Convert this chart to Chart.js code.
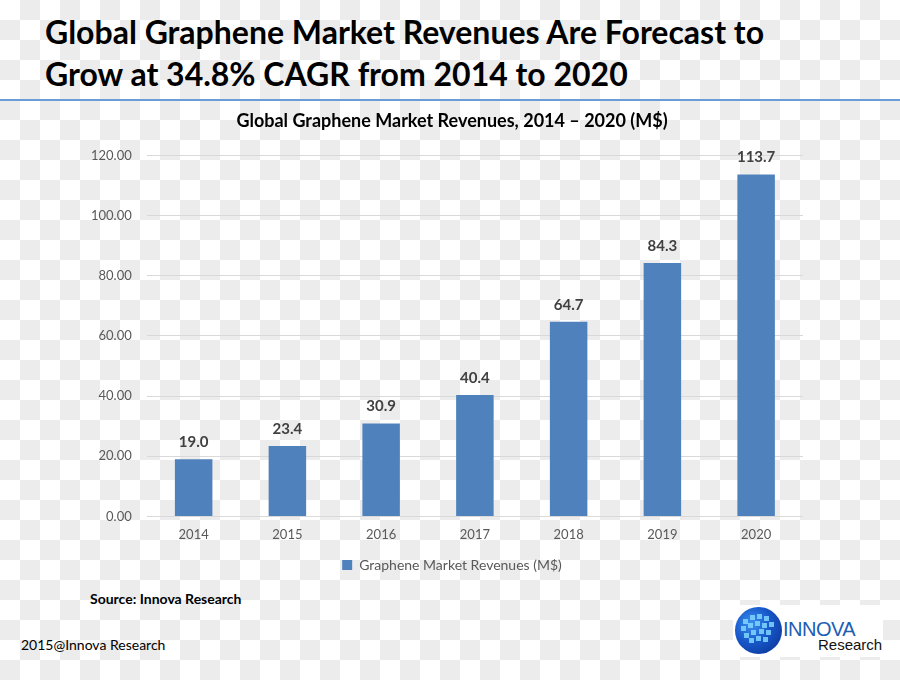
<!DOCTYPE html>
<html>
<head>
<meta charset="utf-8">
<script src="https://cdn.jsdelivr.net/npm/chart.js@4"></script>
<style>
  html, body { margin: 0; padding: 0; }
  body {
    width: 900px; height: 680px; position: relative; overflow: hidden;
    font-family: Lato, 'Open Sans', sans-serif;
    background: repeating-conic-gradient(#ececec 0 25%, #fff 0 50%) 0 0 / 40px 40px;
  }
  .headline { position: absolute; left: 45px; top: 11px; font-size: 32px; font-weight: bold; line-height: 42px; color: #000; }
  .rule { position: absolute; left: 0; top: 99px; width: 900px; height: 2px; background: #6b9bd6; }
  .chart-box { position: absolute; left: 76px; top: 104px; width: 752px; height: 478px; }
  .source { position: absolute; left: 90px; top: 590px; font-size: 14px; font-weight: bold; color: #000; }
  .copyright { position: absolute; left: 21px; top: 636px; font-size: 14px; color: #000; }
  .logo { position: absolute; left: 733px; top: 605px; width: 150px; height: 52px; background: #fff; }
  .globe {
    position: absolute; left: 2px; top: 2px; width: 47px; height: 47px; border-radius: 50%;
    background: radial-gradient(circle at 35% 35%, #3a8ef0 0%, #1656c8 45%, #0a2f8c 100%);
    overflow: hidden;
  }
  .globe i { position: absolute; width: 5px; height: 5px; background: #7fd6ff; opacity: 0.85; }
  .logo .innova { position: absolute; left: 50px; top: 13px; font-family: 'Liberation Sans', Arial, sans-serif; font-size: 20px; color: #1c5db5; letter-spacing: -0.5px; }
  .logo .research { position: absolute; left: 85px; top: 31px; font-family: 'Liberation Sans', Arial, sans-serif; font-size: 15px; color: #111; }
</style>
</head>
<body>
<div class="headline">Global Graphene Market Revenues Are Forecast to<br>Grow at 34.8% CAGR from 2014 to 2020</div>
<div class="rule"></div>
<div class="chart-box"><canvas id="revenueChart"></canvas></div>
<div class="source">Source: Innova Research</div>
<div class="copyright">2015@Innova Research</div>
<div class="logo">
  <div class="globe">
    <i style="left:8px;top:12px"></i><i style="left:15px;top:8px"></i><i style="left:22px;top:7px"></i><i style="left:29px;top:9px"></i>
    <i style="left:6px;top:19px"></i><i style="left:13px;top:16px"></i><i style="left:20px;top:14px"></i><i style="left:27px;top:16px"></i><i style="left:34px;top:15px"></i>
    <i style="left:9px;top:26px"></i><i style="left:16px;top:23px"></i><i style="left:24px;top:22px"></i><i style="left:31px;top:23px"></i>
    <i style="left:14px;top:31px"></i><i style="left:21px;top:29px"></i><i style="left:28px;top:30px"></i>
  </div>
  <div class="innova">INNOVA</div>
  <div class="research">Research</div>
</div>
<script>
const years = ['2014', '2015', '2016', '2017', '2018', '2019', '2020'];
const revenues = [19.0, 23.4, 30.9, 40.4, 64.7, 84.3, 113.7];
const seriesLabel = 'Graphene Market Revenues (M$)';
const chartTitle = 'Global Graphene Market Revenues, 2014 \u2013 2020 (M$)';

const barColor = '#4f81bd';
const tickColor = '#595959';
const gridColor = '#d9d9d9';

const valueLabels = {
    id: 'valueLabels',
    afterDatasetsDraw(chart) {
        const ctx = chart.ctx;
        const meta = chart.getDatasetMeta(0);
        ctx.save();
        ctx.font = 'bold 15px Lato';
        ctx.fillStyle = '#404040';
        ctx.textAlign = 'center';
        ctx.textBaseline = 'middle';
        meta.data.forEach((bar, i) => {
            ctx.fillText(revenues[i].toFixed(1), bar.x, bar.y - 17);
        });
        ctx.restore();
    },
};

new Chart(document.getElementById('revenueChart'), {
    type: 'bar',
    data: {
        labels: years,
        datasets: [{
            label: seriesLabel,
            data: revenues,
            backgroundColor: barColor,
            borderWidth: 0,
            barPercentage: 0.4,
            categoryPercentage: 1,
        }],
    },
    options: {
        responsive: true,
        maintainAspectRatio: false,
        animation: false,
        plugins: {
            title: {
                display: true,
                text: chartTitle,
                color: '#000',
                font: { family: 'Lato', size: 18, weight: 'bold' },
                padding: { top: 6, bottom: 24 },
            },
            legend: {
                position: 'bottom',
                labels: { color: tickColor, font: { family: 'Lato', size: 14 }, boxWidth: 10, boxHeight: 10, padding: 4 },
            },
            tooltip: { enabled: false },
        },
        scales: {
            x: {
                grid: { display: false, drawTicks: false },
                border: { display: false },
                ticks: { color: tickColor, font: { family: 'Lato', size: 13 }, padding: 11 },
            },
            y: {
                min: 0,
                max: 120,
                ticks: { stepSize: 20, color: tickColor, font: { family: 'Lato', size: 13 }, padding: 15, callback: value => value.toFixed(2) },
                grid: { color: gridColor, drawTicks: false },
                border: { display: false },
            },
            // empty right-hand strip so the plot stops where the original does
            spacer: {
                type: 'linear',
                position: 'right',
                grid: { display: false, drawTicks: false },
                border: { display: false },
                ticks: { display: false },
                afterFit: scale => { scale.width = 25; },
            },
        },
    },
    plugins: [valueLabels],
});
</script>
</body>
</html>
